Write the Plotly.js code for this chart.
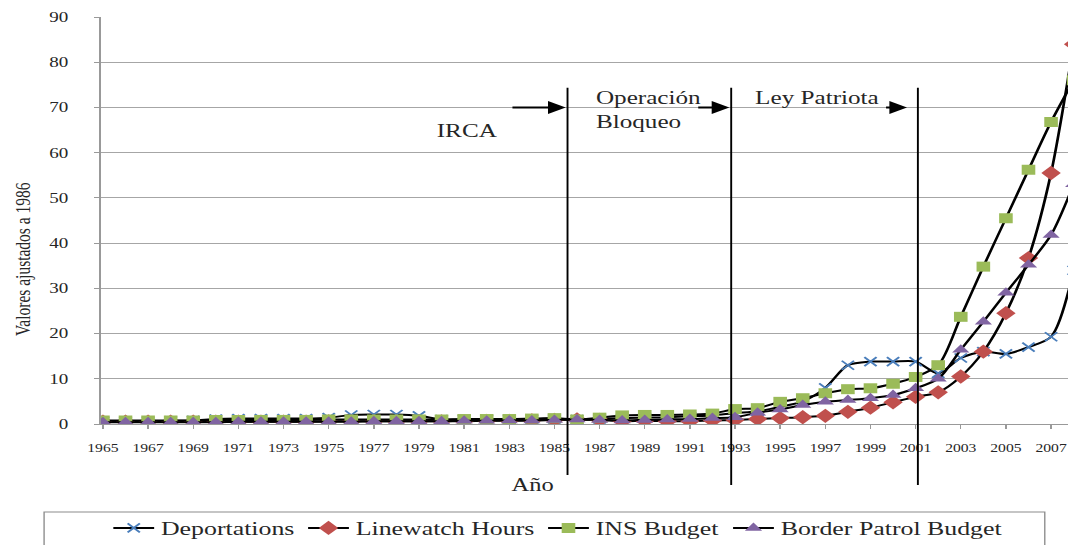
<!DOCTYPE html>
<html>
<head>
<meta charset="utf-8">
<script src="https://cdn.plot.ly/plotly-3.0.1.min.js"></script>
<style>
html,body{margin:0;padding:0;background:#fff;overflow:hidden;}
#chart{width:785px;height:545px;transform:scaleX(1.36051);transform-origin:0 0;}
</style>
</head>
<body>
<div id="chart"></div>
<script>
const years = [1965,1966,1967,1968,1969,1970,1971,1972,1973,1974,1975,1976,1977,1978,1979,1980,1981,1982,1983,1984,1985,1986,1987,1988,1989,1990,1991,1992,1993,1994,1995,1996,1997,1998,1999,2000,2001,2002,2003,2004,2005,2006,2007,2008];
const deportations = [0.6,0.6,0.6,0.7,0.8,1.1,1.2,1.2,1.2,1.2,1.4,2.0,2.1,2.1,1.8,1.0,1.0,1.0,1.0,1.0,1.1,1.0,1.1,1.3,1.4,1.5,1.7,1.9,2.4,2.8,3.8,5.0,8.0,13.0,13.8,13.8,13.8,11.2,14.6,16.0,15.5,17.0,19.3,34];
const linewatch = [0.5,0.5,0.5,0.5,0.5,0.5,0.5,0.5,0.5,0.5,0.6,0.6,0.6,0.6,0.6,0.6,0.6,0.7,0.7,0.8,0.9,1.0,0.9,0.6,0.7,0.6,0.6,0.8,0.9,1.1,1.3,1.5,1.8,2.7,3.6,4.8,6.0,7.0,10.5,16.0,24.5,36.7,55.5,84];
const insBudget = [0.8,0.8,0.8,0.8,0.8,0.9,0.9,0.9,0.9,0.9,1.0,1.0,1.0,1.0,1.0,1.0,1.1,1.1,1.1,1.2,1.3,1.0,1.4,1.9,2.0,2.0,2.1,2.3,3.3,3.5,4.9,5.7,6.8,7.7,7.9,8.9,10.4,13.0,23.7,34.8,45.5,56.2,66.8,76];
const borderBudget = [0.4,0.4,0.4,0.4,0.4,0.4,0.5,0.5,0.5,0.5,0.5,0.5,0.6,0.6,0.6,0.6,0.7,0.7,0.8,0.8,0.9,1.0,0.9,0.8,0.9,1.0,1.1,1.3,1.5,2.5,3.2,4.2,4.9,5.3,5.7,6.4,7.9,10.0,16.4,22.6,29.0,35.2,41.8,53];
const seriesNames = ["Deportations","Linewatch Hours","INS Budget","Border Patrol Budget"];
const tickYears = [1965,1967,1969,1971,1973,1975,1977,1979,1981,1983,1985,1987,1989,1991,1993,1995,1997,1999,2001,2003,2005,2007];
const yTicks = [0,10,20,30,40,50,60,70,80,90];
const eventLines = [1985.58, 1992.83, 2001.1];
const eventLineBottoms = [-0.125, -0.15, -0.15];
const eventLabels = ["IRCA","Operación<br>Bloqueo","Ley Patriota"];

const serif = "Liberation Serif";
const txt = "#262626";
const lineStyle = {color:"#000000", width:2, shape:"spline", smoothing:0.8};

const traces = [
  {x:years, y:deportations, name:seriesNames[0], mode:"lines+markers", line:lineStyle,
   marker:{symbol:"x-thin", size:9, line:{color:"#4a7ebb", width:1.6}, color:"#4a7ebb"}},
  {x:years, y:linewatch, name:seriesNames[1], mode:"lines+markers", line:lineStyle,
   marker:{symbol:"diamond", size:11, color:"#c0504d"}},
  {x:years, y:insBudget, name:seriesNames[2], mode:"lines+markers", line:lineStyle,
   marker:{symbol:"square", size:10, color:"#9bbb59"}},
  {x:years, y:borderBudget, name:seriesNames[3], mode:"lines+markers", line:lineStyle,
   marker:{symbol:"triangle-up", size:11, color:"#8064a2"}}
];

const shapes = eventLines.map((v,i) => ({type:"line", xref:"x", yref:"paper", x0:v, x1:v, y0:eventLineBottoms[i], y1:0.826,
  line:{color:"#000", width:1.4}, layer:"above"}));
shapes.push({type:"rect", xref:"paper", yref:"paper", x0:-0.0585, x1:0.976, y0:-0.216, y1:-0.40,
  line:{color:"#8c8c8c", width:1}, fillcolor:"rgba(0,0,0,0)", layer:"above"});

const arrows = [[1983.05,1985.5],[1991.28,1992.75],[1999.6,2000.62]];
const annotations = arrows.map(a => ({x:a[1], y:70, xref:"x", yref:"y", axref:"x", ayref:"y", ax:a[0], ay:70,
  text:"", showarrow:true, arrowhead:2, arrowsize:1.3, arrowwidth:2, arrowcolor:"#000"}));

annotations.push({x:1981.17, y:64.8, xref:"x", yref:"y", text:eventLabels[0], showarrow:false,
  font:{family:serif, size:18.5, color:txt}});
annotations.push({x:1986.7, y:69.4, xref:"x", yref:"y", text:eventLabels[1], showarrow:false,
  xanchor:"left", align:"left", font:{family:serif, size:18.5, color:txt}});
annotations.push({x:1993.75, y:72.2, xref:"x", yref:"y", text:eventLabels[2], showarrow:false,
  xanchor:"left", font:{family:serif, size:18.5, color:txt}});
annotations.push({x:-0.0816, y:0.405, xref:"paper", yref:"paper", xanchor:"center", yanchor:"middle",
  text:"Valores ajustados a 1986", textangle:-90,
  showarrow:false, font:{family:serif, size:15.5, color:txt}});
annotations.push({x:0.446, y:-0.15, xref:"paper", yref:"paper", xanchor:"center", yanchor:"middle",
  text:"Año", showarrow:false, font:{family:serif, size:18, color:txt}});

const layout = {
  width:785, height:545,
  margin:{l:73.5, r:0, t:17, b:121, autoexpand:false},
  paper_bgcolor:"#fff", plot_bgcolor:"#fff",
  showlegend:true,
  legend:{orientation:"h", x:0.473, xanchor:"center", y:-0.209, yanchor:"top",
    font:{family:serif, size:19, color:txt}, borderwidth:0, bgcolor:"rgba(0,0,0,0)",
    traceorder:"normal"},
  xaxis:{range:[1964.9, 2007.75], tickmode:"array", tickvals:tickYears, ticktext:tickYears.map(String),
    showgrid:false, zeroline:false, showline:true, linecolor:"#999", linewidth:1, automargin:false,
    ticks:"outside", ticklen:4, tickcolor:"#999", tickangle:0, ticklabelstandoff:9,
    tickfont:{family:serif, size:11.5, color:txt}},
  yaxis:{range:[0,90], tickmode:"array", tickvals:yTicks, ticktext:yTicks.map(String),
    showgrid:true, gridcolor:"#a6a6a6", gridwidth:1, zeroline:false, automargin:false,
    showline:true, linecolor:"#999", linewidth:1, ticks:"outside", ticklen:4, tickcolor:"#999",
    ticklabelstandoff:16,
    tickfont:{family:serif, size:14, color:txt}},
  shapes:shapes,
  annotations:annotations
};

Plotly.newPlot("chart", traces, layout, {displayModeBar:false, staticPlot:true});
</script>
</body>
</html>
